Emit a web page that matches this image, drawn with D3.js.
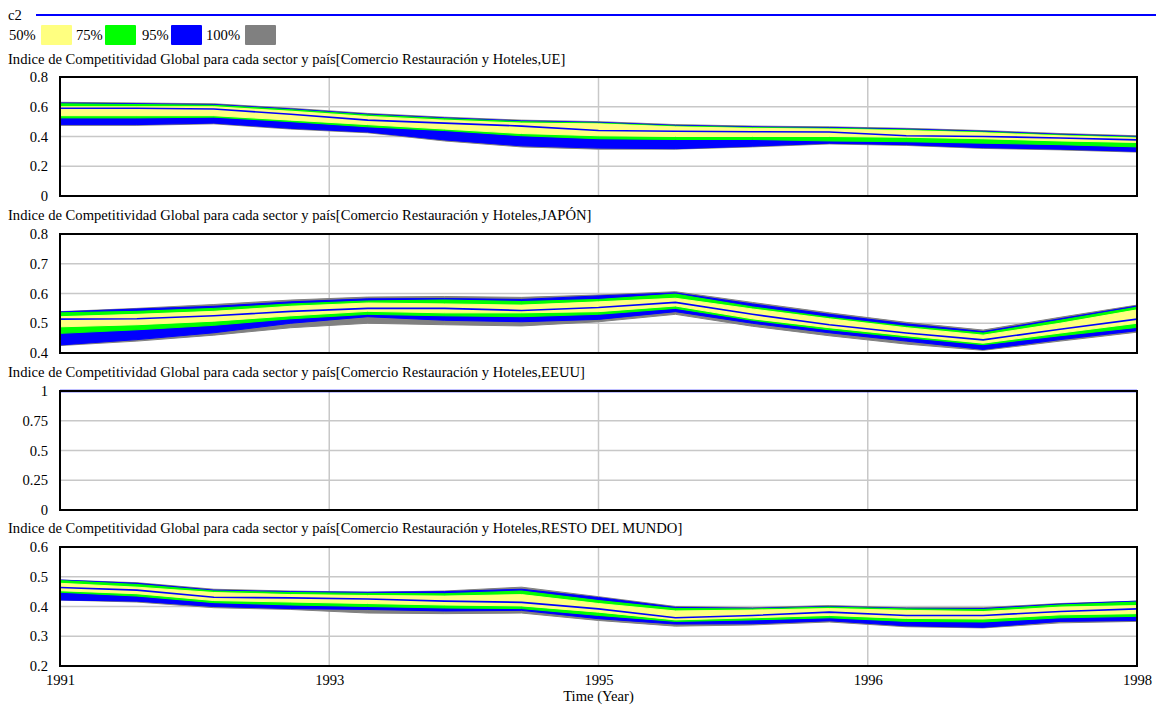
<!DOCTYPE html>
<html><head><meta charset="utf-8">
<script src="https://cdn.jsdelivr.net/npm/d3@7"></script>
<style>
body{margin:0;background:#fff;}
</style></head>
<body><svg id="c" width="1156" height="706"></svg>
<script>
// ---------- DATA ----------
const years = [1991,1991.5,1992,1992.5,1993,1993.5,1994,1994.5,1995,1995.5,1996,1996.5,1997,1997.5,1998];
const xTickValues = [1991,1992.75,1994.5,1996.25,1998];
const xTickLabels = ["1991","1993","1995","1996","1998"];
const legendLabels = ["50%","75%","95%","100%"];
const runName = "c2";
const xAxisTitle = "Time (Year)";
const titles = [
 "Indice de Competitividad Global para cada sector y país[Comercio Restauración y Hoteles,UE]",
 "Indice de Competitividad Global para cada sector y país[Comercio Restauración y Hoteles,JAPÓN]",
 "Indice de Competitividad Global para cada sector y país[Comercio Restauración y Hoteles,EEUU]",
 "Indice de Competitividad Global para cada sector y país[Comercio Restauración y Hoteles,RESTO DEL MUNDO]"
];
const yTicksUE = [0,0.2,0.4,0.6,0.8];
const yTicksJP = [0.4,0.5,0.6,0.7,0.8];
const yTicksUS = [0,0.25,0.5,0.75,1];
const yTicksRM = [0.2,0.3,0.4,0.5,0.6];

// UE
const ueGrayHi   = [.63,.625,.62,.59,.555,.53,.51,.50,.48,.47,.465,.455,.44,.42,.405];
const ueBlueHi   = [.625,.62,.615,.585,.55,.525,.505,.495,.475,.465,.46,.45,.435,.415,.40];
const ueGreenHi  = [.62,.615,.61,.58,.545,.52,.50,.49,.47,.46,.455,.445,.43,.41,.395];
const ueYellowHi = [.60,.60,.60,.57,.535,.51,.49,.485,.465,.455,.45,.44,.425,.405,.39];
const ueBase     = [.59,.59,.585,.55,.51,.49,.47,.44,.435,.432,.43,.405,.40,.39,.377];
const ueYellowLo = [.54,.54,.54,.51,.48,.45,.42,.405,.40,.40,.40,.395,.385,.37,.36];
const ueGreenLo  = [.525,.525,.53,.50,.465,.44,.405,.385,.38,.38,.37,.365,.355,.345,.33];
const ueBlueLo   = [.48,.48,.49,.455,.43,.377,.337,.322,.318,.335,.355,.345,.325,.315,.30];
const ueGrayLo   = [.475,.475,.485,.45,.425,.37,.33,.315,.315,.33,.35,.34,.32,.31,.295];

// JAPON
const jpGrayHi   = [.539,.55,.563,.578,.588,.59,.587,.595,.606,.57,.535,.503,.477,.52,.561];
const jpBlueHi   = [.538,.548,.557,.572,.582,.583,.58,.592,.602,.565,.53,.498,.472,.515,.558];
const jpGreenHi  = [.535,.54,.55,.565,.575,.578,.573,.58,.598,.555,.52,.49,.467,.51,.554];
const jpYellowHi = [.522,.53,.54,.557,.568,.565,.561,.572,.584,.548,.515,.485,.46,.50,.545];
const jpBase     = [.514,.515,.525,.54,.55,.55,.543,.553,.57,.53,.495,.467,.444,.48,.514];
const jpYellowLo = [.488,.495,.507,.525,.54,.535,.535,.539,.558,.515,.485,.458,.433,.467,.50];
const jpGreenLo  = [.466,.478,.493,.515,.53,.525,.522,.53,.55,.51,.478,.452,.428,.458,.486];
const jpBlueLo   = [.427,.445,.468,.50,.522,.51,.505,.513,.539,.50,.468,.44,.412,.445,.475];
const jpGrayLo   = [.425,.44,.46,.485,.50,.495,.491,.505,.53,.49,.458,.43,.409,.44,.47];

// EEUU
const usBase     = [1,1,1,1,1,1,1,1,1,1,1,1,1,1,1];

// RESTO DEL MUNDO
const rmGrayHi   = [.489,.48,.458,.452,.448,.452,.465,.433,.40,.396,.403,.396,.396,.41,.418];
const rmBlueHi   = [.489,.478,.455,.45,.448,.45,.458,.43,.397,.394,.40,.394,.393,.408,.418];
const rmGreenHi  = [.487,.474,.452,.447,.444,.443,.452,.42,.393,.392,.398,.392,.39,.405,.415];
const rmYellowHi = [.478,.465,.447,.44,.437,.435,.44,.41,.385,.388,.393,.387,.383,.398,.403];
const rmBase     = [.464,.455,.431,.429,.425,.418,.414,.392,.362,.37,.381,.37,.37,.383,.392];
const rmYellowLo = [.453,.443,.42,.415,.41,.405,.402,.381,.355,.362,.37,.36,.358,.372,.376];
const rmGreenLo  = [.448,.435,.413,.405,.40,.395,.393,.37,.35,.355,.362,.35,.348,.362,.367];
const rmBlueLo   = [.422,.418,.40,.393,.39,.385,.387,.359,.341,.342,.352,.335,.33,.35,.353];
const rmGrayLo   = [.422,.415,.396,.39,.378,.376,.378,.353,.334,.338,.348,.332,.328,.345,.35];

// ---------- STYLE / LAYOUT ----------
const COL = {yellow:"#FFFF80", green:"#00FF00", blue:"#0000FF", gray:"#808080", grid:"#C8C8C8"};
const FONT = "Times New Roman, Times, Liberation Serif, Tinos, DejaVu Serif, Noto Serif, serif";
const X0 = 60, X1 = 1137;
const TITLE_TARGET_W = 558; // measured width of the UE title in the reference
const panels = [
 {title:titles[0], ticks:yTicksUE, top:77, bottom:196, titleY:64,
  bands:[[ueGrayLo,ueGrayHi,COL.gray],[ueBlueLo,ueBlueHi,COL.blue],[ueGreenLo,ueGreenHi,COL.green],[ueYellowLo,ueYellowHi,COL.yellow]], base:ueBase},
 {title:titles[1], ticks:yTicksJP, top:234, bottom:353, titleY:220,
  bands:[[jpGrayLo,jpGrayHi,COL.gray],[jpBlueLo,jpBlueHi,COL.blue],[jpGreenLo,jpGreenHi,COL.green],[jpYellowLo,jpYellowHi,COL.yellow]], base:jpBase},
 {title:titles[2], ticks:yTicksUS, top:391, bottom:510, titleY:377, bands:[], base:usBase},
 {title:titles[3], ticks:yTicksRM, top:547, bottom:666, titleY:533,
  bands:[[rmGrayLo,rmGrayHi,COL.gray],[rmBlueLo,rmBlueHi,COL.blue],[rmGreenLo,rmGreenHi,COL.green],[rmYellowLo,rmYellowHi,COL.yellow]], base:rmBase}
];

const svg = d3.select("#c");
// measure font to match the reference text width
const probe = svg.append("text").style("font-family",FONT).style("font-size","14px").text(titles[0]);
const w14 = probe.node().getComputedTextLength();
probe.remove();
let fsNum = Math.max(11, Math.min(16, 14*TITLE_TARGET_W/(w14||TITLE_TARGET_W)));
const FS = fsNum.toFixed(2)+"px";
const txt = (sel)=>sel.style("font-family",FONT).style("font-size",FS).attr("fill","#000");
const x = d3.scaleLinear().domain([years[0], years[years.length-1]]).range([X0, X1]);

// legend
txt(svg.append("text").attr("x",8).attr("y",20).text(runName));
svg.append("line").attr("x1",36).attr("x2",1156).attr("y1",15).attr("y2",15)
   .attr("stroke",COL.blue).attr("stroke-width",2);
const legCols = [COL.yellow, COL.green, COL.blue, COL.gray];
const legTextX = [9, 76, 142, 206];
const legSwX = [41, 105, 171, 245];
legendLabels.forEach((l,i)=>{
  txt(svg.append("text").attr("x",legTextX[i]).attr("y",40).text(l));
  svg.append("rect").attr("x",legSwX[i]).attr("y",25).attr("width",31).attr("height",20)
     .attr("rx",1).attr("fill",legCols[i]);
});

panels.forEach((p,pi)=>{
  const y = d3.scaleLinear().domain([p.ticks[0], p.ticks[p.ticks.length-1]]).range([p.bottom, p.top]);
  const g = svg.append("g");
  txt(g.append("text").attr("x",8).attr("y",p.titleY).text(p.title));
  // grid
  g.selectAll(".hg").data(p.ticks.slice(1,-1)).enter().append("line")
    .attr("x1",X0).attr("x2",X1).attr("y1",d=>y(d)).attr("y2",d=>y(d))
    .attr("stroke",COL.grid).attr("stroke-width",1.5);
  g.selectAll(".vg").data(xTickValues.slice(1,-1)).enter().append("line")
    .attr("x1",d=>x(d)).attr("x2",d=>x(d)).attr("y1",p.top).attr("y2",p.bottom)
    .attr("stroke",COL.grid).attr("stroke-width",1.5);
  // bands
  p.bands.forEach(([lo,hi,col])=>{
    const area = d3.area().x((d,i)=>x(years[i])).y0((d,i)=>y(lo[i])).y1((d,i)=>y(hi[i]));
    g.append("path").datum(years).attr("d",area).attr("fill",col)
      .attr("stroke",col).attr("stroke-width",1);
  });
  // base run
  const line = d3.line().x((d,i)=>x(years[i])).y(d=>y(d));
  g.append("path").datum(p.base).attr("d",line).attr("fill","none")
    .attr("stroke",COL.blue).attr("stroke-width",pi===2?2.5:1.6);
  // frame
  g.append("rect").attr("x",X0).attr("y",p.top).attr("width",X1-X0).attr("height",p.bottom-p.top)
    .attr("fill","none").attr("stroke","#000").attr("stroke-width",2);
  // y axis labels
  const ya = g.append("g").attr("transform",`translate(${X0-12},0)`)
    .call(d3.axisLeft(y).tickValues(p.ticks).tickSize(0).tickFormat(d=>String(d)));
  ya.attr("font-family",null).attr("font-size",null);
  ya.select(".domain").remove();
  txt(ya.selectAll("text")).attr("x",0);
  if(pi===3){
    const xa = g.append("g").attr("transform",`translate(0,${p.bottom+6})`)
      .call(d3.axisBottom(x).tickValues(xTickValues).tickSize(0).tickFormat((d,i)=>xTickLabels[i]));
    xa.attr("font-family",null).attr("font-size",null);
    xa.select(".domain").remove();
    txt(xa.selectAll("text"));
    txt(svg.append("text").attr("x",x(xTickValues[2])).attr("y",701).attr("text-anchor","middle")
      .text(xAxisTitle));
  }
});
</script></body></html>
